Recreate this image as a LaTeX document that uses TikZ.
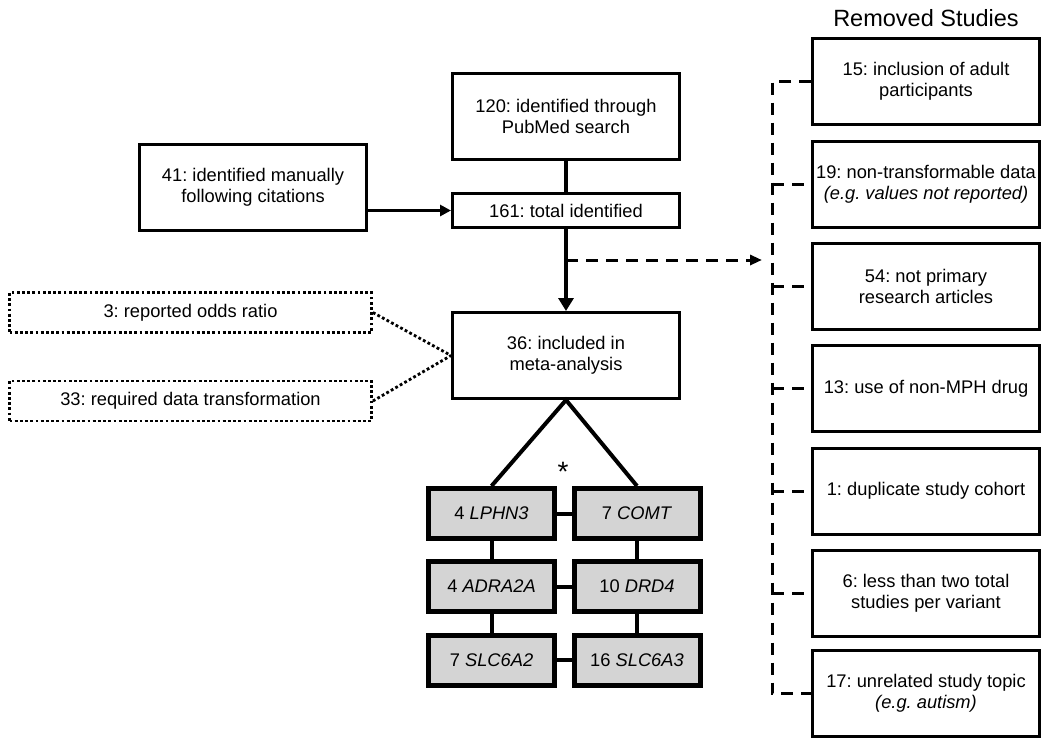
\documentclass[tikz,border=0pt]{standalone}
\usepackage{fontspec}
\setmainfont{Liberation Sans}
\usetikzlibrary{arrows.meta}
\frenchspacing
\tikzset{
  x=1pt, y=-1pt,
  txt/.style={font=\fontsize{18.3}{21}\selectfont, align=center, inner sep=0pt},
  mainbox/.style={txt, draw, line width=3pt, minimum width=227pt, minimum height=86pt},
  rembox/.style={mainbox},
  genebox/.style={txt, draw, line width=5pt, fill=black!17, minimum width=126pt, minimum height=50pt},
  dotbox/.style={txt, draw, line width=2.8pt, dash pattern=on 2.8pt off 2.4pt, minimum width=362pt, minimum height=40pt},
  thick conn/.style={line width=4pt},
  dashconn/.style={line width=3pt, dash pattern=on 12pt off 8pt},
  dotconn/.style={line width=2.8pt, dash pattern=on 2.8pt off 2.4pt},
}
\begin{document}
\begin{tikzpicture}
\useasboundingbox (0,0) rectangle (1050,748);

% main column
\node[mainbox] (pub) at (566,116.5) {120: identified through\\PubMed search};
\node[mainbox, minimum height=34pt] (tot) at (566,210.5) {161: total identified};
\node[mainbox] (man) at (253,187) {41: identified manually\\following citations};
\node[mainbox] (inc) at (566,355.5) {36: included in\\meta-analysis};

\draw[thick conn] (pub.south) -- (tot.north);
\draw[line width=3pt, -{Triangle[length=11pt,width=11pt]}] (man.east |- tot.west) -- (tot.west);
\draw[thick conn, -{Triangle[length=13pt,width=15pt]}] (tot.south) -- (inc.north);

% dotted boxes
\node[dotbox] (d1) at (190.5,312.5) {3: reported odds ratio};
\node[dotbox] (d2) at (190.5,401) {33: required data transformation};
\draw[dotconn] (d1.east) -- (inc.west);
\draw[dotconn] (d2.east) -- (inc.west);

% gene boxes
\node[genebox] (g1) at (491.5,513.5) {4 \textit{LPHN3}};
\node[genebox] (g2) at (637,513.5) {7 \textit{COMT}};
\node[genebox] (g3) at (491.5,586.5) {4 \textit{ADRA2A}};
\node[genebox] (g4) at (637,586.5) {10 \textit{DRD4}};
\node[genebox] (g5) at (491.5,660) {7 \textit{SLC6A2}};
\node[genebox] (g6) at (637,660) {16 \textit{SLC6A3}};

\draw[thick conn] (g1.north) -- (inc.south) -- (g2.north);
\node[txt, font=\fontsize{28}{30}\selectfont] (ast) at (563,472) {*};
\draw[thick conn] (g1.east) -- (g2.west);
\draw[thick conn] (g3.east) -- (g4.west);
\draw[thick conn] (g5.east) -- (g6.west);
\draw[thick conn] (g1.south) -- (g3.north);
\draw[thick conn] (g3.south) -- (g5.north);
\draw[thick conn] (g2.south) -- (g4.north);
\draw[thick conn] (g4.south) -- (g6.north);

% removed studies
\node[txt, font=\fontsize{23.5}{27}\selectfont] (title) at (926,18) {Removed Studies};
\node[rembox] (r1) at (926,81.5) {15: inclusion of adult\\participants};
\node[rembox] (r2) at (926,184.5) {19: non-transformable data\\\textit{(e.g. values not reported)}};
\node[rembox] (r3) at (926,286) {54: not primary\\research articles};
\node[rembox] (r4) at (926,388.5) {13: use of non-MPH drug};
\node[rembox] (r5) at (926,491) {1: duplicate study cohort};
\node[rembox] (r6) at (926,593) {6: less than two total\\studies per variant};
\node[rembox] (r7) at (926,693.5) {17: unrelated study topic\\\textit{(e.g. autism)}};

\coordinate (bus) at (772,81.5);
\draw[dashconn] (r1.west) -- (bus) -- (bus |- r7.west) -- (r7.west);
\foreach \r in {r2,r3,r4,r5,r6}
  \draw[dashconn] (bus |- \r.west) -- (\r.west);

\coordinate (split) at (566,260);
\draw[dashconn, -{Triangle[length=12pt,width=10pt]}] (split) -- (762,260);
\end{tikzpicture}
\end{document}
